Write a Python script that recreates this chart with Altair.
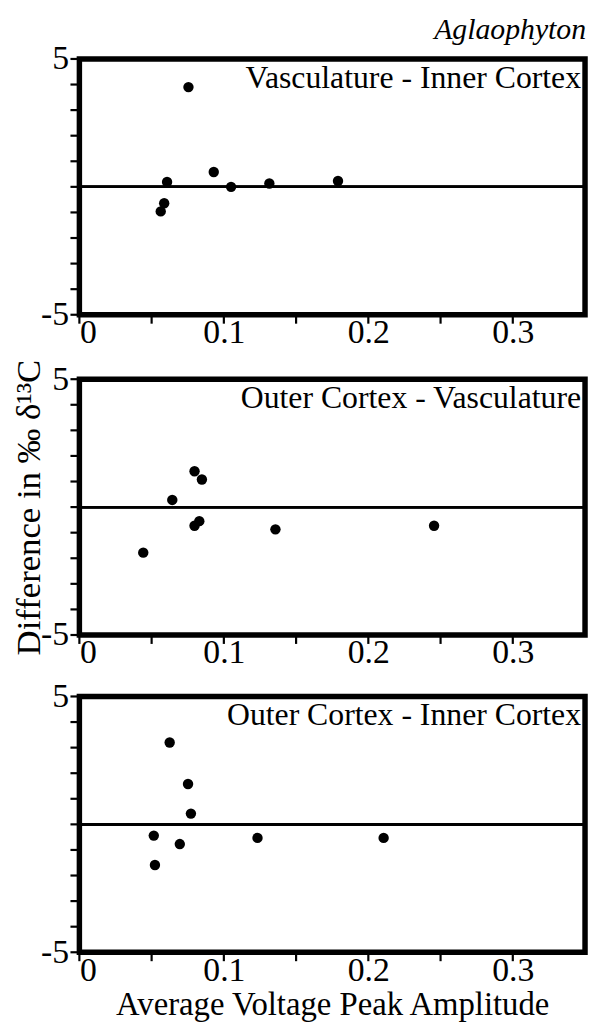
import altair as alt
import pandas as pd

# Panel 1: Vasculature - Inner Cortex
p1_x = [0.0563, 0.0587, 0.0607, 0.0755, 0.093, 0.105, 0.1315, 0.179]
p1_y = [-0.96, -0.64, 0.19, 3.9, 0.58, 0.0, 0.13, 0.23]
# Panel 2: Outer Cortex - Vasculature
p2_x = [0.0442, 0.0643, 0.0797, 0.0848, 0.0797, 0.083, 0.1357, 0.2455]
p2_y = [-1.78, 0.28, 1.40, 1.08, -0.73, -0.55, -0.87, -0.73]
# Panel 3: Outer Cortex - Inner Cortex
p3_x = [0.0625, 0.0752, 0.0772, 0.0515, 0.0523, 0.0695, 0.1233, 0.2106]
p3_y = [3.2, 1.58, 0.42, -0.44, -1.59, -0.77, -0.53, -0.53]

panel_labels = ["Vasculature - Inner Cortex", "Outer Cortex - Vasculature", "Outer Cortex - Inner Cortex"]
x_ticks = [0, 0.05, 0.1, 0.15, 0.2, 0.25, 0.3]
y_ticks = [-5, -4, -3, -2, -1, 0, 1, 2, 3, 4, 5]

FONT = "Liberation Serif"
W, H = 510, 258
LBL = 34

XS = alt.Scale(domain=[0, 0.35], nice=False, zero=False)
YS = alt.Scale(domain=[-5, 5], nice=False)


def panel(xs, ys, label, ytitle=None, xtitle=None, title=None):
    df = pd.DataFrame({"x": xs, "y": ys})
    common = dict(ticks=False, domain=False, grid=False, labelFont=FONT, labelFontSize=LBL,
                  labelColor="black", titleFont=FONT,
                  titleFontWeight="normal", titleColor="black")
    xaxis = alt.Axis(values=x_ticks, format=".2~f",
                     labelExpr="abs(datum.value*10 - round(datum.value*10)) < 0.001 ? datum.label : ''",
                     labelPadding=1, titlePadding=2, titleFontSize=33,
                     title=xtitle if xtitle else None, **common)
    yaxis = alt.Axis(values=y_ticks,
                     labelExpr="datum.value % 5 == 0 ? replace(datum.label, '\u2212', '-') : ''",
                     labelPadding=11, titlePadding=-6, titleFontSize=35,
                     title=ytitle if ytitle else None, **common)
    xenc = alt.X("x:Q", scale=XS, axis=xaxis)
    yenc = alt.Y("y:Q", scale=YS, axis=yaxis)
    pts = alt.Chart(df).mark_circle(color="black", opacity=1, size=110).encode(x=xenc, y=yenc)
    zero = alt.Chart(df).mark_rule(color="black", strokeWidth=2.2).encode(y=alt.datum(0))
    yt = alt.Chart(pd.DataFrame({"v": y_ticks})).mark_rule(color="black", strokeWidth=2.2).encode(
        y=alt.Y("v:Q", scale=YS), x=alt.value(-9), x2=alt.value(0))
    xt = alt.Chart(pd.DataFrame({"v": x_ticks})).mark_rule(color="black", strokeWidth=2.2).encode(
        x=alt.X("v:Q", scale=XS), y=alt.value(H), y2=alt.value(H + 9))
    lab = alt.Chart(pd.DataFrame({"t": [label]})).mark_text(
        font=FONT, fontSize=32, align="right", baseline="top", color="black"
    ).encode(x=alt.value(W - 4), y=alt.value(4), text="t:N")
    ch = alt.layer(zero, pts, yt, xt, lab).properties(width=W, height=H)
    if title:
        ch = ch.properties(title=alt.TitleParams(title, anchor="end", font=FONT, fontStyle="italic",
                                                 fontSize=30, fontWeight="normal", color="black", offset=-3))
    return ch


chart = alt.vconcat(
    panel(p1_x, p1_y, panel_labels[0], title="Aglaophyton"),
    panel(p2_x, p2_y, panel_labels[1], ytitle="Difference in ‰ δ¹³C"),
    panel(p3_x, p3_y, panel_labels[2], xtitle="Average Voltage Peak Amplitude"),
    spacing=4,
).configure_view(stroke="black", strokeWidth=5.5).properties(
    padding={"left": 0, "top": 0, "right": 0, "bottom": 0}
)

chart.save("out.html", embed_options={"renderer": "svg", "actions": False})
